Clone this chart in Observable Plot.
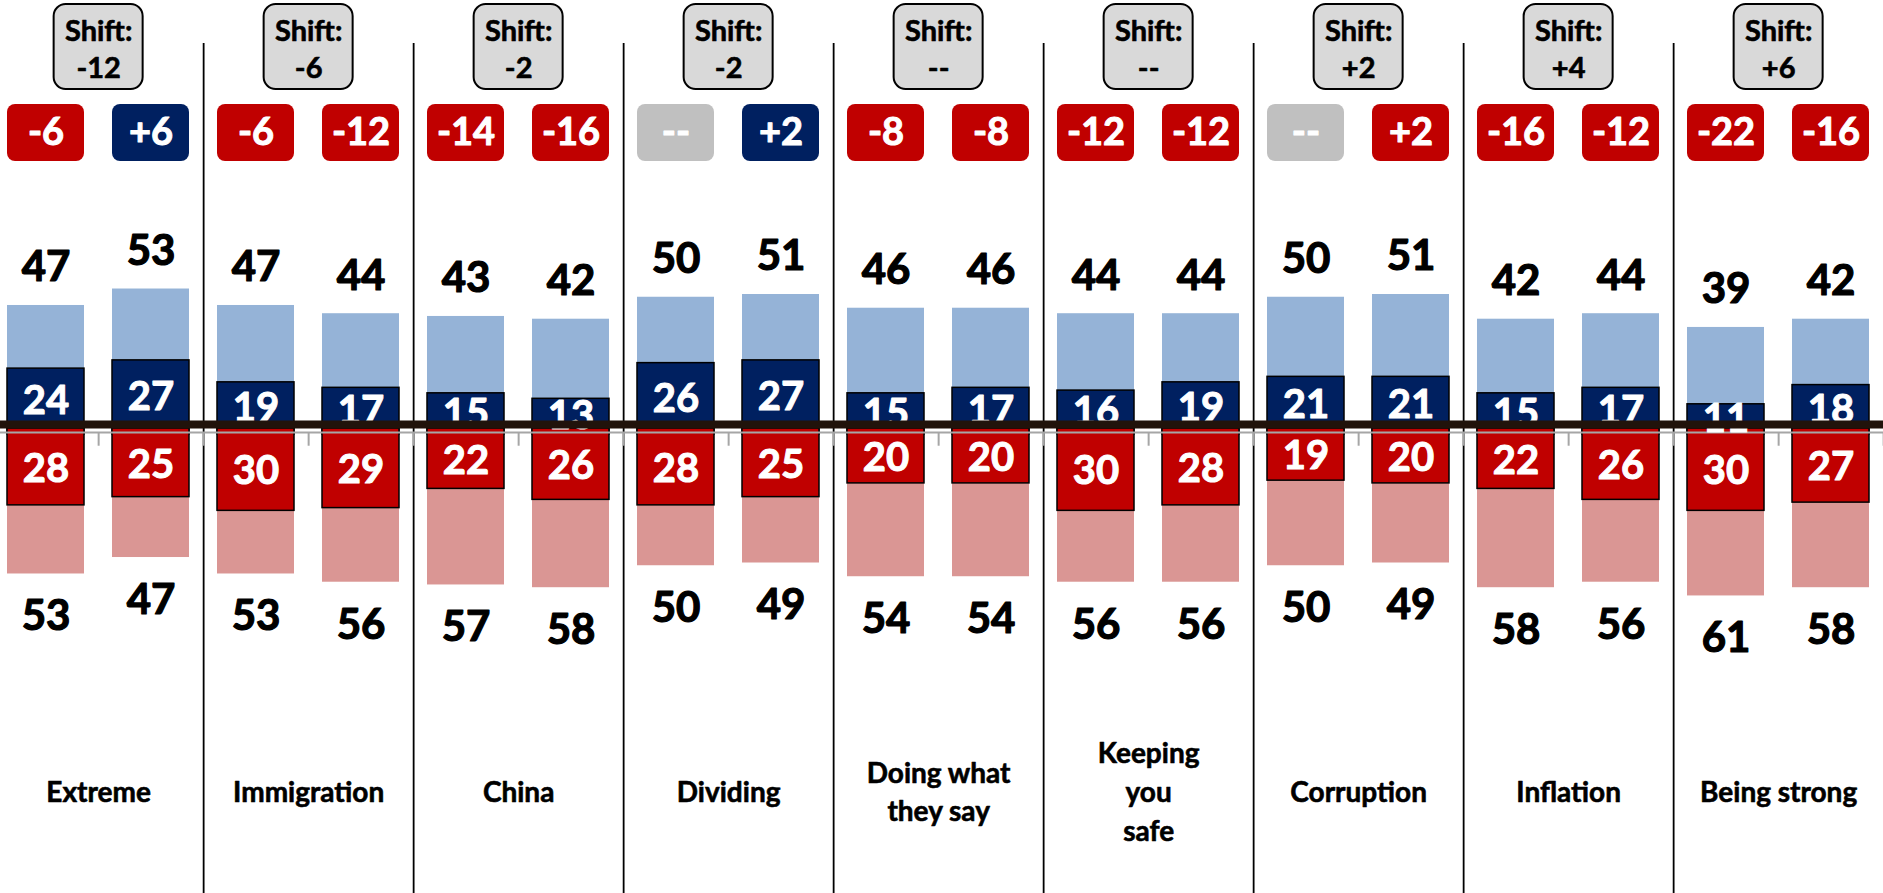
<!DOCTYPE html>
<html>
<head>
<meta charset="utf-8">
<script src="https://cdn.jsdelivr.net/npm/d3@7"></script>
<script src="https://cdn.jsdelivr.net/npm/@observablehq/plot@0.6"></script>
<style>
  html, body { margin: 0; padding: 0; background: #fff; }
  #chart svg { display: block; }
</style>
</head>
<body>
<div id="chart"></div>
<script>
// ---------- data ----------
const categories = ["Extreme", "Immigration", "China", "Dividing", "Doing what\nthey say", "Keeping\nyou\nsafe", "Corruption", "Inflation", "Being strong"];
const shifts = ["-12", "-6", "-2", "-2", "--", "--", "+2", "+4", "+6"];

// two bars per category (earlier / later)
const blueTotal = [47, 53, 47, 44, 43, 42, 50, 51, 46, 46, 44, 44, 50, 51, 42, 44, 39, 42];
const blueCore  = [24, 27, 19, 17, 15, 13, 26, 27, 15, 17, 16, 19, 21, 21, 15, 17, 11, 18];
const redTotal  = [53, 47, 53, 56, 57, 58, 50, 49, 54, 54, 56, 56, 50, 49, 58, 56, 61, 58];
const redCore   = [28, 25, 30, 29, 22, 26, 28, 25, 20, 20, 30, 28, 19, 20, 22, 26, 30, 27];
const netLabels = ["-6", "+6", "-6", "-12", "-14", "-16", "--", "+2", "-8", "-8", "-12", "-12", "--", "+2", "-16", "-12", "-22", "-16"];
const netSide   = ["R", "D", "R", "R", "R", "R", "N", "D", "R", "R", "R", "R", "N", "R", "R", "R", "R", "R"];

// ---------- tables ----------
const rows = blueTotal.map((_, i) => ({
  i, panel: Math.floor(i / 2),
  blueTotal: blueTotal[i], blueCore: blueCore[i],
  redTotal: redTotal[i], redCore: redCore[i],
  net: netLabels[i], side: netSide[i]
}));
const panels = categories.map((c, p) => ({p, first: 2 * p, cat: c, shift: shifts[p]}));

// ---------- layout / style ----------
const W = 1883, H = 893;
const X0 = -10, X1 = 1885;
const step = (X1 - X0) / rows.length;
const half = step / 2;
const sideColor = {R: "#c00000", D: "#002060", N: "#c0c0c0"};
const FONT = "Lato, 'Open Sans', sans-serif";

const chart = Plot.plot({
  width: W, height: H,
  marginTop: 0, marginBottom: 0, marginLeft: 0, marginRight: 0,
  style: {fontFamily: FONT, background: "#fff"},
  x: {domain: rows.map(d => d.i), range: [X0, X1], paddingInner: 0.27, paddingOuter: 0.135, axis: null},
  y: {domain: [-100, 100], range: [431 + 274.5, 431 - 274.5], axis: null},
  marks: [
    // panel separators
    Plot.ruleX(panels.slice(0, -1), {x: d => d.first + 1, dx: half, stroke: "#000", strokeWidth: 1.8, insetTop: 43}),
    // bars
    Plot.barY(rows, {x: "i", y1: 0, y2: "blueTotal", fill: "#95b3d7", dy: 3}),
    Plot.barY(rows, {x: "i", y1: 0, y2: "blueCore", fill: "#002060", stroke: "#000", strokeWidth: 1.5, dy: 3}),
    Plot.barY(rows, {x: "i", y1: 0, y2: d => -d.redTotal, fill: "#da9694", dy: -3}),
    Plot.barY(rows, {x: "i", y1: 0, y2: d => -d.redCore, fill: "#c00000", stroke: "#000", strokeWidth: 1.5, dy: -3}),
    // axis line + ticks
    Plot.ruleY([0], {stroke: "#a6a6a6", strokeWidth: 2, dy: 1}),
    Plot.ruleX(rows, {x: "i", y1: 0, y2: -5, dx: half, dy: 1, stroke: "#a6a6a6", strokeWidth: 2}),
    // core labels
    Plot.text(rows, {x: "i", y: d => d.blueCore / 2, text: d => String(d.blueCore), dy: 3, fill: "#fff", stroke: "#fff", strokeWidth: 1, fontSize: 40, fontWeight: "bold"}),
    Plot.text(rows, {x: "i", y: d => -d.redCore / 2, text: d => String(d.redCore), dy: -1, fill: "#fff", stroke: "#fff", strokeWidth: 1, fontSize: 40, fontWeight: "bold"}),
    // thick centre line
    Plot.ruleY([0], {stroke: "#21130b", strokeWidth: 8, dy: -7}),
    // totals
    Plot.text(rows, {x: "i", y: "blueTotal", text: d => String(d.blueTotal), dy: -34.5, fill: "#000", stroke: "#000", strokeWidth: 1.2, fontSize: 42, fontWeight: "bold"}),
    Plot.text(rows, {x: "i", y: d => -d.redTotal, text: d => String(d.redTotal), dy: 40, fill: "#000", stroke: "#000", strokeWidth: 1.2, fontSize: 42, fontWeight: "bold"}),
    // net badges
    Plot.cell(rows, {x: "i", fill: d => sideColor[d.side], rx: 8, insetTop: 104, insetBottom: H - 161}),
    Plot.text(rows, {x: "i", text: "net", frameAnchor: "top", lineAnchor: "middle", dy: 132.5, fill: "#fff", stroke: "#fff", strokeWidth: 1, fontSize: 38, fontWeight: "bold"}),
    // shift boxes
    Plot.cell(panels, {x: "first", dx: half, fill: "#d9d9d9", stroke: "#000", strokeWidth: 2, rx: 12, insetTop: 4, insetBottom: H - 89, insetLeft: -6, insetRight: -6}),
    Plot.text(panels, {x: "first", dx: half, text: d => "Shift:\n" + d.shift, frameAnchor: "top", lineAnchor: "middle", dy: 47, lineHeight: 1.27, fill: "#000", stroke: "#000", strokeWidth: 0.6, fontSize: 29, fontWeight: "bold"}),
    // category labels
    Plot.text(panels, {x: "first", dx: half, text: "cat", frameAnchor: "top", lineAnchor: "middle", dy: 789, lineHeight: 1.39, fill: "#000", stroke: "#000", strokeWidth: 0.6, fontSize: 28, fontWeight: "bold"})
  ]
});
document.getElementById("chart").appendChild(chart);
</script>
</body>
</html>
